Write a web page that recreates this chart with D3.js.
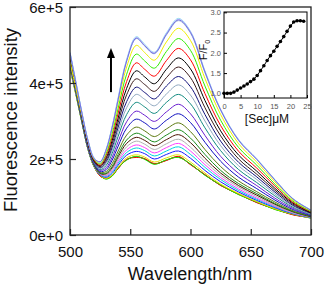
<!DOCTYPE html>
<html><head><meta charset="utf-8">
<script src="https://cdn.jsdelivr.net/npm/d3@7"></script>
<style>html,body{margin:0;padding:0;background:#fff;} svg{display:block;font-family:"Liberation Sans",Arial,sans-serif;}</style>
</head><body><svg id="c" width="325" height="286"></svg>
<script>
// ---- data (intensity values in units of 1e4) ----
const valueUnit = 1e4;
const wavelengths = [500,505,510,515,520,525,530,535,540,547,555,562,570,580,590,600,612,625,640,655,670,685,700];
const spectrum00 = [44,37,29.5,22.5,18,15.6,14.8,15.6,17.6,19.8,20.6,20.0,18.7,19.7,20.5,18.6,15.8,13.1,10.7,8.6,6.8,5.4,4.5];
const spectrum01 = [44.4,37.3,29.7,22.6,18.1,15.5,14.9,15.7,17.5,19.9,20.4,20.1,18.8,19.6,20.7,18.5,15.9,13.0,10.8,8.5,6.9,5.3,4.6];
const spectrum02 = [43.8,36.8,29.4,22.4,17.9,15.7,14.7,15.5,17.7,19.7,20.7,19.9,18.6,19.8,20.4,18.7,15.7,13.2,10.6,8.7,6.7,5.5,4.4];
const spectrum03 = [43.5,36.7,29.4,22.5,18.0,15.7,14.9,15.8,17.9,20.3,21.1,20.5,19.2,20.3,21.1,19.2,16.3,13.4,10.9,8.8,6.9,5.5,4.5];
const spectrum04 = [44.2,37.1,29.6,22.6,18.1,15.8,15.2,16.2,18.4,21.0,22.0,21.4,20.0,21.2,22.1,20.2,17.0,14.0,11.3,9.1,7.2,5.6,4.6];
const spectrum05 = [44.3,37.2,29.7,22.7,18.2,15.9,15.4,16.5,18.9,21.7,22.9,22.2,20.8,22.1,23.2,21.2,17.8,14.6,11.7,9.4,7.4,5.7,4.7];
const spectrum06 = [44.4,37.3,29.8,22.7,18.2,16.0,15.6,16.9,19.4,22.4,23.7,23.0,21.6,23.0,24.1,22.1,18.5,15.1,12.1,9.7,7.6,5.8,4.7];
const spectrum07 = [44.5,37.4,29.8,22.8,18.3,16.1,15.8,17.3,20.0,23.2,24.7,23.9,22.5,24.0,25.2,23.1,19.3,15.7,12.6,10.1,7.8,5.9,4.8];
const spectrum08 = [44.7,37.5,29.9,22.9,18.4,16.2,16.1,17.7,20.6,24.1,25.7,24.9,23.5,25.1,26.4,24.3,20.2,16.3,13.0,10.5,8.1,6.1,4.8];
const spectrum09 = [44.8,37.6,30.0,23.0,18.4,16.3,16.3,18.1,21.2,25.0,26.8,25.9,24.5,26.3,27.7,25.5,21.2,17.0,13.5,10.9,8.3,6.2,4.9];
const spectrum10 = [45.0,37.7,30.1,23.1,18.5,16.5,16.7,18.8,22.1,26.3,28.4,27.4,25.9,27.9,29.5,27.2,22.5,18.0,14.2,11.4,8.7,6.4,5.0];
const spectrum11 = [45.3,38.0,30.3,23.2,18.7,16.7,17.2,19.7,23.4,28.1,30.5,29.5,27.9,30.2,31.9,29.6,24.4,19.4,15.2,12.2,9.2,6.7,5.1];
const spectrum12 = [45.5,38.2,30.5,23.4,18.8,17.0,17.7,20.5,24.6,29.8,32.6,31.5,29.9,32.4,34.4,31.9,26.2,20.7,16.2,13.0,9.7,7.0,5.3];
const spectrum13 = [45.8,38.4,30.6,23.6,19.0,17.2,18.3,21.5,26.0,31.7,34.9,33.7,32.0,34.9,37.0,34.5,28.2,22.2,17.2,13.8,10.3,7.3,5.4];
const spectrum14 = [46.1,38.6,30.8,23.7,19.2,17.5,18.8,22.3,27.2,33.5,37.0,35.7,34.0,37.1,39.5,36.8,30.0,23.5,18.2,14.6,10.8,7.5,5.5];
const spectrum15 = [46.3,38.8,31.0,23.8,19.3,17.7,19.3,23.1,28.4,35.1,38.9,37.5,35.8,39.2,41.7,39.0,31.7,24.7,19.1,15.3,11.3,7.8,5.7];
const spectrum16 = [46.6,39.0,31.1,24.0,19.4,18.0,19.8,24.0,29.6,36.9,41.1,39.6,37.8,41.4,44.2,41.4,33.5,26.1,20.0,16.0,11.8,8.1,5.8];
const spectrum17 = [46.9,39.2,31.3,24.2,19.6,18.2,20.3,24.9,30.8,38.6,43.2,41.6,39.8,43.6,46.6,43.7,35.4,27.4,21.0,16.8,12.3,8.4,5.9];
const spectrum18 = [47.2,39.4,31.5,24.3,19.7,18.4,20.9,25.8,32.1,40.4,45.3,43.6,41.8,45.9,49.1,46.1,37.2,28.8,22.0,17.6,12.9,8.6,6.1];
const spectrum19 = [47.4,39.6,31.7,24.5,19.9,18.7,21.4,26.7,33.4,42.3,47.6,45.8,43.9,48.3,51.7,48.6,39.2,30.2,23.0,18.4,13.4,8.9,6.2];
const spectrum20 = [45.5,38.5,31.4,24.7,20.1,19.0,22.0,27.6,34.8,44.2,49.9,48.0,46.0,50.8,54.4,51.2,41.2,31.7,24.0,19.2,14.0,9.2,6.4];
const spectrum21 = [48.0,40.0,32.0,24.8,20.2,19.2,22.4,28.4,35.8,45.7,51.7,49.7,47.7,52.6,56.4,53.1,42.7,32.8,24.8,19.9,14.4,9.5,6.5];
const spectrum22 = [48.2,40.2,32.1,24.9,20.3,19.1,22.6,28.6,36.2,46.2,52.2,50.2,48.1,53.2,57.0,53.6,43.2,33.1,25.1,20.1,14.6,9.6,6.6];
const spectrum23 = [48.0,40.0,32.0,24.8,20.2,19.2,22.5,28.5,36.0,46.0,52.0,50.0,48.0,53.0,56.8,53.5,43.0,33.0,25.0,20.0,14.5,9.5,6.5];
const spectrum24 = [47.9,39.9,31.9,24.7,20.1,19.3,22.4,28.3,35.7,45.8,51.8,49.8,47.8,52.8,56.6,53.3,42.9,32.9,24.9,19.9,14.5,9.5,6.5];
const spectra = [spectrum00,spectrum01,spectrum02,spectrum03,spectrum04,spectrum05,spectrum06,spectrum07,spectrum08,spectrum09,
  spectrum10,spectrum11,spectrum12,spectrum13,spectrum14,spectrum15,spectrum16,spectrum17,spectrum18,spectrum19,
  spectrum20,spectrum21,spectrum22,spectrum23,spectrum24];
const spectrumColors = ["#000000","#ff0000","#22ee00","#e6e600","#1a1aff","#00d5e0","#ff40ff","#b0b0b0","#4a1500","#1a8a1a",
  "#5d7a10","#1010c0","#6a1fd0","#108a80","#8fa8c0","#10107a","#3a1a1a","#000000","#ff0000","#33ee00",
  "#f0f000","#b0c4de","#90e0f0","#c0c0ff","#7070e0"];
const xTicks = [500,550,600,650,700];
const yTicks = [0,2e5,4e5,6e5];

// inset data
const secConc = [0,1,2,3,4,5,6,7,8,9,10,11,12,13,14,15,16,17,18,19,20,21,22,23,24];
const fRatio = [1.0,1.0,1.0,1.03,1.08,1.13,1.18,1.23,1.29,1.35,1.44,1.56,1.68,1.81,1.93,2.04,2.16,2.28,2.40,2.53,2.66,2.76,2.79,2.79,2.78];
const insetXTicks = [0,5,10,15,20,25];
const insetYTicks = [1.0,1.5,2.0,2.5,3.0];

// arrow annotation (data coords)
const arrowWavelength = 534, arrowFrom = 3.76e5, arrowTo = 4.92e5;

// ---- drawing ----
const svg = d3.select("#c");
const x = d3.scaleLinear().domain([500,700]).range([70,311]);
const y = d3.scaleLinear().domain([0,6e5]).range([235,7]);

svg.append("defs").append("clipPath").attr("id","pc").append("rect")
  .attr("x",70).attr("y",7).attr("width",241).attr("height",228);

const line = d3.line().x((d,i)=>x(wavelengths[i])).y(d=>y(d*valueUnit)).curve(d3.curveCatmullRom.alpha(0.5));
const g = svg.append("g").attr("clip-path","url(#pc)");
spectra.forEach((s,i)=>{
  g.append("path").attr("d",line(s)).attr("fill","none")
    .attr("stroke",spectrumColors[i]).attr("stroke-width",1);
});

// arrow
const ax = x(arrowWavelength), ay0 = y(arrowFrom), ay1 = y(arrowTo);
svg.append("line").attr("x1",ax).attr("x2",ax).attr("y1",ay0).attr("y2",ay1+8)
  .attr("stroke","#000").attr("stroke-width",2);
svg.append("path").attr("d",`M${ax},${ay1} L${ax-4},${ay1+10} L${ax+4},${ay1+10} Z`).attr("fill","#000");

// frame
svg.append("rect").attr("x",70).attr("y",7).attr("width",241).attr("height",228)
  .attr("fill","none").attr("stroke","#222").attr("stroke-width",1.3);

const xAxis = svg.append("g").attr("transform","translate(0,235)")
  .call(d3.axisBottom(x).tickValues(xTicks).tickSizeInner(-6).tickSizeOuter(0).tickPadding(11).tickFormat(d3.format("d")));
const yAxis = svg.append("g").attr("transform","translate(70,0)")
  .call(d3.axisLeft(y).tickValues(yTicks).tickSizeInner(-6).tickSizeOuter(0).tickPadding(7).tickFormat(d3.format(".0e")));
[xAxis,yAxis].forEach(a=>{
  a.select(".domain").remove();
  a.selectAll(".tick line").attr("stroke","#222").attr("stroke-width",1.2);
  a.selectAll(".tick text").attr("font-size",15).attr("fill","#111")
    .attr("font-family",'"Liberation Sans",Arial,sans-serif');
});
yAxis.selectAll(".tick text").attr("dy","0.35em");

svg.append("text").attr("x",190).attr("y",280).attr("text-anchor","middle")
  .attr("font-size",18).attr("fill","#111").text("Wavelength/nm");
svg.append("text").attr("transform","translate(17,120) rotate(-90)").attr("text-anchor","middle")
  .attr("font-size",18.5).attr("fill","#111").text("Fluorescence intensity");

// ---- inset ----
const ix = d3.scaleLinear().domain([0,25]).range([224,307]);
const iy = d3.scaleLinear().domain([0.885,3.0]).range([98,12.3]);
svg.append("rect").attr("x",224).attr("y",12).attr("width",83).attr("height",86)
  .attr("fill","#fff").attr("stroke","#000").attr("stroke-width",1);
const ixa = svg.append("g").attr("transform","translate(0,98)")
  .call(d3.axisBottom(ix).tickValues(insetXTicks).tickSizeInner(-3).tickSizeOuter(0).tickPadding(6).tickFormat(d3.format("d")));
const iya = svg.append("g").attr("transform","translate(224,0)")
  .call(d3.axisLeft(iy).tickValues(insetYTicks).tickSizeInner(-3).tickSizeOuter(0).tickPadding(3).tickFormat(d3.format(".1f")));
[ixa,iya].forEach(a=>{
  a.select(".domain").remove();
  a.selectAll(".tick line").attr("stroke","#000");
  a.selectAll(".tick text").attr("font-size",7.5).attr("fill","#555")
    .attr("font-family",'"Liberation Sans",Arial,sans-serif');
});
const pts = secConc.map((c,i)=>[c,fRatio[i]]);
svg.append("path").attr("d",d3.line().x(d=>ix(d[0])).y(d=>iy(d[1]))(pts))
  .attr("fill","none").attr("stroke","#000").attr("stroke-width",1);
svg.append("g").selectAll("circle").data(pts).join("circle")
  .attr("cx",d=>ix(d[0])).attr("cy",d=>iy(d[1])).attr("r",1.8).attr("fill","#000");

svg.append("text").attr("x",267).attr("y",123).attr("text-anchor","middle")
  .attr("font-size",12).attr("fill","#111").text("[Sec]μM");
const ft = svg.append("text").attr("transform","translate(207,50) rotate(-90)").attr("text-anchor","middle")
  .attr("font-size",11).attr("fill","#111");
ft.append("tspan").text("F/F");
ft.append("tspan").attr("font-size",7).attr("dy",3).text("0");
</script></body></html>
